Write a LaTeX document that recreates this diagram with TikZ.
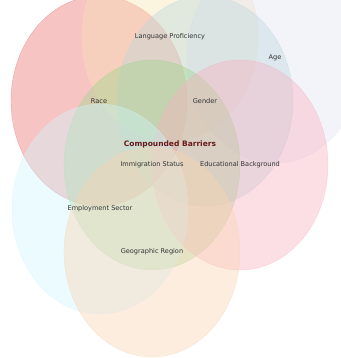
\documentclass[tikz,border=0pt]{standalone}
\usepackage{fontspec}
\setmainfont{DejaVu Sans}
\usepackage{tikz}

\definecolor{raceC}{RGB}{236,108,108}
\definecolor{langC}{RGB}{246,228,176}
\definecolor{ageC}{RGB}{226,226,244}
\definecolor{genderC}{RGB}{186,214,222}
\definecolor{immigC}{RGB}{156,214,138}
\definecolor{eduC}{RGB}{248,176,190}
\definecolor{employC}{RGB}{206,246,255}
\definecolor{geoC}{RGB}{250,212,176}
\definecolor{barrierRed}{RGB}{105,25,25}

\begin{document}
\begin{tikzpicture}[
		x=0.03cm, y=-0.03cm
		,set/.style={fill opacity=.4, draw opacity=.5, line width=.3pt}
		,lbl/.style={font=\fontsize{5.6}{6}\selectfont, text=black!80}
		,core/.style={font=\fontsize{6.4}{7}\selectfont\bfseries, text=barrierRed}
	]
		\clip (0,0) rectangle (341,358);
		\fill[white] (0,0) rectangle (341,358);

		% centres of the overlapping sets
		\coordinate (race) at (99,101);
		\coordinate (lang) at (170,37);
		\coordinate (age) at (275,58);
		\coordinate (gender) at (205,101);
		\coordinate (immig) at (152,165);
		\coordinate (edu) at (240,165);
		\coordinate (employ) at (100,209);
		\coordinate (geo) at (152,252);

		\foreach \c/\col in {race/raceC, lang/langC, age/ageC, gender/genderC,
				immig/immigC, edu/eduC, employ/employC, geo/geoC}
			\path[set, fill=\col, draw=\col] (\c) ellipse [x radius=88, y radius=105];

		\node[lbl] (langL) at (lang) {Language Proficiency};
		\node[lbl] (ageL) at (age) {Age};
		\node[lbl] (raceL) at (race) {Race};
		\node[lbl] (genderL) at (gender) {Gender};
		\node[core] (core) at (170,144) {Compounded Barriers};
		\node[lbl] (immigL) at (immig) {Immigration Status};
		\node[lbl] (eduL) at (edu) {Educational Background};
		\node[lbl] (employL) at (employ) {Employment Sector};
		\node[lbl] (geoL) at (geo) {Geographic Region};
	\end{tikzpicture}
\end{document}
